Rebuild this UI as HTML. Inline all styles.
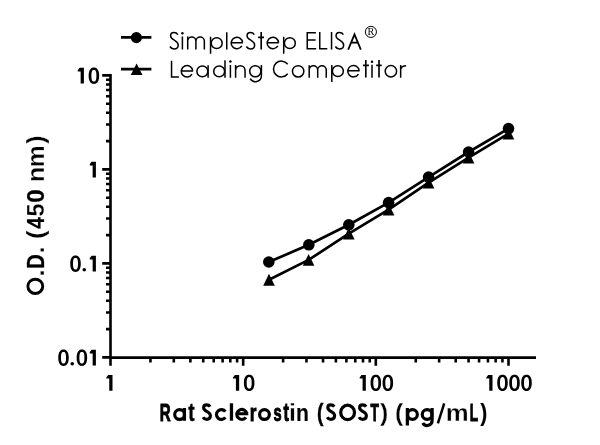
<!DOCTYPE html>
<html><head><meta charset="utf-8"><style>
html,body{margin:0;padding:0;background:#fff;}
svg{display:block;will-change:transform;}
text{font-family:"Liberation Sans",sans-serif;fill:#000;}
.b{font-weight:bold;}
.bt{font-weight:bold;}
.thin{stroke:#fff;stroke-width:0.5;paint-order:normal;}
.thinb{stroke:#fff;stroke-width:0.15;paint-order:normal;}
</style></head><body>
<svg width="600" height="445" viewBox="0 0 600 445">
<rect width="600" height="445" fill="#fff"/>
<path d="M110.5 74.1V358.9M109.2 357.59999999999997H536M102.2 75.40H110.5M102.2 169.40H110.5M102.2 263.40H110.5M102.2 357.40H110.5M106 329.10H110.5M106 312.55H110.5M106 300.81H110.5M106 291.70H110.5M106 284.25H110.5M106 277.96H110.5M106 272.51H110.5M106 267.70H110.5M106 235.10H110.5M106 218.55H110.5M106 206.81H110.5M106 197.70H110.5M106 190.25H110.5M106 183.96H110.5M106 178.51H110.5M106 173.70H110.5M106 141.10H110.5M106 124.55H110.5M106 112.81H110.5M106 103.70H110.5M106 96.25H110.5M106 89.96H110.5M106 84.51H110.5M106 79.70H110.5M110.50 357.4V365.7M243.17 357.4V365.7M375.83 357.4V365.7M508.50 357.4V365.7M150.44 357.4V362.4M173.80 357.4V362.4M190.37 357.4V362.4M203.23 357.4V362.4M213.73 357.4V362.4M222.62 357.4V362.4M230.31 357.4V362.4M237.10 357.4V362.4M283.10 357.4V362.4M306.46 357.4V362.4M323.04 357.4V362.4M335.90 357.4V362.4M346.40 357.4V362.4M355.28 357.4V362.4M362.98 357.4V362.4M369.76 357.4V362.4M415.77 357.4V362.4M439.13 357.4V362.4M455.71 357.4V362.4M468.56 357.4V362.4M479.07 357.4V362.4M487.95 357.4V362.4M495.64 357.4V362.4M502.43 357.4V362.4" stroke="#000" stroke-width="2.6" fill="none"/>
<path d="M268.8 262 L308.8 244.8 L348.8 224.8 L388.6 202.6 L428.6 177.1 L468.6 152 L508.5 128.6" stroke="#000" stroke-width="2.7" fill="none" stroke-linejoin="round"/>
<path d="M269 279.75 L308.6 259.9 L348.8 233.7 L388.6 209.6 L428.6 182.6 L468.6 157.6 L508.5 133.7" stroke="#000" stroke-width="2.7" fill="none" stroke-linejoin="round"/>
<g fill="#000"><circle cx="268.8" cy="262" r="5.8"/><circle cx="308.8" cy="244.8" r="5.8"/><circle cx="348.8" cy="224.8" r="5.8"/><circle cx="388.6" cy="202.6" r="5.8"/><circle cx="428.6" cy="177.1" r="5.8"/><circle cx="468.6" cy="152" r="5.8"/><circle cx="508.5" cy="128.6" r="5.8"/><path d="M263.20 285.65L269.00 273.85L274.80 285.65Z"/><path d="M302.80 265.80L308.60 254.00L314.40 265.80Z"/><path d="M343.00 239.60L348.80 227.80L354.60 239.60Z"/><path d="M382.80 215.50L388.60 203.70L394.40 215.50Z"/><path d="M422.80 188.50L428.60 176.70L434.40 188.50Z"/><path d="M462.80 163.50L468.60 151.70L474.40 163.50Z"/><path d="M502.70 139.60L508.50 127.80L514.30 139.60Z"/></g>
<path d="M121 37.4H151.4M121 69.2H151.4" stroke="#000" stroke-width="2.7"/>
<circle cx="136.4" cy="37.6" r="5.6"/>
<path d="M130.70 75.10L136.60 63.40L142.50 75.10Z"/>
<g fill="#000"><path d="M83.90 67.80V83.60H80.65V71.40H77.80L77.70 70.30L79.60 67.80Z"/><path fill-rule="evenodd" d="M99.15 75.70L99.11 77.10L98.99 78.23L98.80 79.26L98.53 80.19L98.19 81.03L97.78 81.77L97.31 82.40L96.77 82.94L96.18 83.35L95.52 83.66L94.79 83.84L93.90 83.90L93.01 83.84L92.28 83.66L91.62 83.35L91.03 82.94L90.49 82.40L90.02 81.77L89.61 81.03L89.27 80.19L89.00 79.26L88.81 78.23L88.69 77.10L88.65 75.70L88.69 74.30L88.81 73.17L89.00 72.14L89.27 71.21L89.61 70.37L90.02 69.63L90.49 69.00L91.03 68.46L91.62 68.05L92.28 67.74L93.01 67.56L93.90 67.50L94.79 67.56L95.52 67.74L96.18 68.05L96.77 68.46L97.31 69.00L97.78 69.63L98.19 70.37L98.53 71.21L98.80 72.14L98.99 73.17L99.11 74.30ZM96.40 75.70L96.38 76.91L96.33 77.75L96.25 78.47L96.14 79.10L95.99 79.66L95.81 80.14L95.61 80.55L95.37 80.89L95.09 81.16L94.78 81.35L94.42 81.46L93.90 81.50L93.38 81.46L93.02 81.35L92.71 81.16L92.43 80.89L92.19 80.55L91.99 80.14L91.81 79.66L91.66 79.10L91.55 78.47L91.47 77.75L91.42 76.91L91.40 75.70L91.42 74.49L91.47 73.65L91.55 72.93L91.66 72.30L91.81 71.74L91.99 71.26L92.19 70.85L92.43 70.51L92.71 70.24L93.02 70.05L93.38 69.94L93.90 69.90L94.42 69.94L94.78 70.05L95.09 70.24L95.37 70.51L95.61 70.85L95.81 71.26L95.99 71.74L96.14 72.30L96.25 72.93L96.33 73.65L96.38 74.49Z"/><path d="M95.90 161.80V177.60H92.65V165.40H89.80L89.70 164.30L91.60 161.80Z"/><path fill-rule="evenodd" d="M80.75 263.70L80.71 265.10L80.59 266.23L80.40 267.26L80.13 268.19L79.79 269.03L79.38 269.77L78.91 270.40L78.37 270.94L77.78 271.35L77.12 271.66L76.39 271.84L75.50 271.90L74.61 271.84L73.88 271.66L73.22 271.35L72.63 270.94L72.09 270.40L71.62 269.77L71.21 269.03L70.87 268.19L70.60 267.26L70.41 266.23L70.29 265.10L70.25 263.70L70.29 262.30L70.41 261.17L70.60 260.14L70.87 259.21L71.21 258.37L71.62 257.63L72.09 257.00L72.63 256.46L73.22 256.05L73.88 255.74L74.61 255.56L75.50 255.50L76.39 255.56L77.12 255.74L77.78 256.05L78.37 256.46L78.91 257.00L79.38 257.63L79.79 258.37L80.13 259.21L80.40 260.14L80.59 261.17L80.71 262.30ZM78.00 263.70L77.98 264.91L77.93 265.75L77.85 266.47L77.74 267.10L77.59 267.66L77.41 268.14L77.21 268.55L76.97 268.89L76.69 269.16L76.38 269.35L76.02 269.46L75.50 269.50L74.98 269.46L74.62 269.35L74.31 269.16L74.03 268.89L73.79 268.55L73.59 268.14L73.41 267.66L73.26 267.10L73.15 266.47L73.07 265.75L73.02 264.91L73.00 263.70L73.02 262.49L73.07 261.65L73.15 260.93L73.26 260.30L73.41 259.74L73.59 259.26L73.79 258.85L74.03 258.51L74.31 258.24L74.62 258.05L74.98 257.94L75.50 257.90L76.02 257.94L76.38 258.05L76.69 258.24L76.97 258.51L77.21 258.85L77.41 259.26L77.59 259.74L77.74 260.30L77.85 260.93L77.93 261.65L77.98 262.49Z"/><circle cx="84.25" cy="269.75" r="1.8"/><path d="M95.90 255.80V271.60H92.65V259.40H89.80L89.70 258.30L91.60 255.80Z"/><path fill-rule="evenodd" d="M68.75 357.70L68.71 359.10L68.59 360.23L68.40 361.26L68.13 362.19L67.79 363.03L67.38 363.77L66.91 364.40L66.37 364.94L65.78 365.35L65.12 365.66L64.39 365.84L63.50 365.90L62.61 365.84L61.88 365.66L61.22 365.35L60.63 364.94L60.09 364.40L59.62 363.77L59.21 363.03L58.87 362.19L58.60 361.26L58.41 360.23L58.29 359.10L58.25 357.70L58.29 356.30L58.41 355.17L58.60 354.14L58.87 353.21L59.21 352.37L59.62 351.63L60.09 351.00L60.63 350.46L61.22 350.05L61.88 349.74L62.61 349.56L63.50 349.50L64.39 349.56L65.12 349.74L65.78 350.05L66.37 350.46L66.91 351.00L67.38 351.63L67.79 352.37L68.13 353.21L68.40 354.14L68.59 355.17L68.71 356.30ZM66.00 357.70L65.98 358.91L65.93 359.75L65.85 360.47L65.74 361.10L65.59 361.66L65.41 362.14L65.21 362.55L64.97 362.89L64.69 363.16L64.38 363.35L64.02 363.46L63.50 363.50L62.98 363.46L62.62 363.35L62.31 363.16L62.03 362.89L61.79 362.55L61.59 362.14L61.41 361.66L61.26 361.10L61.15 360.47L61.07 359.75L61.02 358.91L61.00 357.70L61.02 356.49L61.07 355.65L61.15 354.93L61.26 354.30L61.41 353.74L61.59 353.26L61.79 352.85L62.03 352.51L62.31 352.24L62.62 352.05L62.98 351.94L63.50 351.90L64.02 351.94L64.38 352.05L64.69 352.24L64.97 352.51L65.21 352.85L65.41 353.26L65.59 353.74L65.74 354.30L65.85 354.93L65.93 355.65L65.98 356.49Z"/><circle cx="72.25" cy="363.75" r="1.8"/><path fill-rule="evenodd" d="M87.15 357.70L87.11 359.10L86.99 360.23L86.80 361.26L86.53 362.19L86.19 363.03L85.78 363.77L85.31 364.40L84.77 364.94L84.18 365.35L83.52 365.66L82.79 365.84L81.90 365.90L81.01 365.84L80.28 365.66L79.62 365.35L79.03 364.94L78.49 364.40L78.02 363.77L77.61 363.03L77.27 362.19L77.00 361.26L76.81 360.23L76.69 359.10L76.65 357.70L76.69 356.30L76.81 355.17L77.00 354.14L77.27 353.21L77.61 352.37L78.02 351.63L78.49 351.00L79.03 350.46L79.62 350.05L80.28 349.74L81.01 349.56L81.90 349.50L82.79 349.56L83.52 349.74L84.18 350.05L84.77 350.46L85.31 351.00L85.78 351.63L86.19 352.37L86.53 353.21L86.80 354.14L86.99 355.17L87.11 356.30ZM84.40 357.70L84.38 358.91L84.33 359.75L84.25 360.47L84.14 361.10L83.99 361.66L83.81 362.14L83.61 362.55L83.37 362.89L83.09 363.16L82.78 363.35L82.42 363.46L81.90 363.50L81.38 363.46L81.02 363.35L80.71 363.16L80.43 362.89L80.19 362.55L79.99 362.14L79.81 361.66L79.66 361.10L79.55 360.47L79.47 359.75L79.42 358.91L79.40 357.70L79.42 356.49L79.47 355.65L79.55 354.93L79.66 354.30L79.81 353.74L79.99 353.26L80.19 352.85L80.43 352.51L80.71 352.24L81.02 352.05L81.38 351.94L81.90 351.90L82.42 351.94L82.78 352.05L83.09 352.24L83.37 352.51L83.61 352.85L83.81 353.26L83.99 353.74L84.14 354.30L84.25 354.93L84.33 355.65L84.38 356.49Z"/><path d="M95.90 349.80V365.60H92.65V353.40H89.80L89.70 352.30L91.60 349.80Z"/><path d="M112.50 374.95V390.75H109.25V378.55H106.40L106.30 377.45L108.20 374.95Z"/><path d="M239.17 374.95V390.75H235.92V378.55H233.07L232.97 377.45L234.87 374.95Z"/><path fill-rule="evenodd" d="M254.42 382.85L254.38 384.25L254.26 385.38L254.07 386.41L253.80 387.34L253.46 388.18L253.05 388.92L252.58 389.55L252.04 390.09L251.44 390.50L250.79 390.81L250.06 390.99L249.17 391.05L248.27 390.99L247.55 390.81L246.89 390.50L246.29 390.09L245.76 389.55L245.28 388.92L244.87 388.18L244.53 387.34L244.27 386.41L244.07 385.38L243.96 384.25L243.92 382.85L243.96 381.45L244.07 380.32L244.27 379.29L244.53 378.36L244.87 377.52L245.28 376.78L245.76 376.15L246.29 375.61L246.89 375.20L247.55 374.89L248.27 374.71L249.17 374.65L250.06 374.71L250.79 374.89L251.44 375.20L252.04 375.61L252.58 376.15L253.05 376.78L253.46 377.52L253.80 378.36L254.07 379.29L254.26 380.32L254.38 381.45ZM251.67 382.85L251.65 384.06L251.60 384.90L251.52 385.62L251.40 386.25L251.26 386.81L251.08 387.29L250.87 387.70L250.63 388.04L250.36 388.31L250.05 388.50L249.69 388.61L249.17 388.65L248.64 388.61L248.28 388.50L247.97 388.31L247.70 388.04L247.46 387.70L247.25 387.29L247.07 386.81L246.93 386.25L246.81 385.62L246.73 384.90L246.68 384.06L246.67 382.85L246.68 381.64L246.73 380.80L246.81 380.08L246.93 379.45L247.07 378.89L247.25 378.41L247.46 378.00L247.70 377.66L247.97 377.39L248.28 377.20L248.64 377.09L249.17 377.05L249.69 377.09L250.05 377.20L250.36 377.39L250.63 377.66L250.87 378.00L251.08 378.41L251.26 378.89L251.40 379.45L251.52 380.08L251.60 380.80L251.65 381.64Z"/><path d="M365.83 374.95V390.75H362.58V378.55H359.73L359.63 377.45L361.53 374.95Z"/><path fill-rule="evenodd" d="M381.08 382.85L381.04 384.25L380.93 385.38L380.73 386.41L380.47 387.34L380.13 388.18L379.72 388.92L379.24 389.55L378.71 390.09L378.11 390.50L377.45 390.81L376.73 390.99L375.83 391.05L374.94 390.99L374.21 390.81L373.56 390.50L372.96 390.09L372.42 389.55L371.95 388.92L371.54 388.18L371.20 387.34L370.93 386.41L370.74 385.38L370.62 384.25L370.58 382.85L370.62 381.45L370.74 380.32L370.93 379.29L371.20 378.36L371.54 377.52L371.95 376.78L372.42 376.15L372.96 375.61L373.56 375.20L374.21 374.89L374.94 374.71L375.83 374.65L376.73 374.71L377.45 374.89L378.11 375.20L378.71 375.61L379.24 376.15L379.72 376.78L380.13 377.52L380.47 378.36L380.73 379.29L380.93 380.32L381.04 381.45ZM378.33 382.85L378.32 384.06L378.27 384.90L378.19 385.62L378.07 386.25L377.93 386.81L377.75 387.29L377.54 387.70L377.30 388.04L377.03 388.31L376.72 388.50L376.36 388.61L375.83 388.65L375.31 388.61L374.95 388.50L374.64 388.31L374.37 388.04L374.13 387.70L373.92 387.29L373.74 386.81L373.60 386.25L373.48 385.62L373.40 384.90L373.35 384.06L373.33 382.85L373.35 381.64L373.40 380.80L373.48 380.08L373.60 379.45L373.74 378.89L373.92 378.41L374.13 378.00L374.37 377.66L374.64 377.39L374.95 377.20L375.31 377.09L375.83 377.05L376.36 377.09L376.72 377.20L377.03 377.39L377.30 377.66L377.54 378.00L377.75 378.41L377.93 378.89L378.07 379.45L378.19 380.08L378.27 380.80L378.32 381.64Z"/><path fill-rule="evenodd" d="M393.08 382.85L393.04 384.25L392.93 385.38L392.73 386.41L392.47 387.34L392.13 388.18L391.72 388.92L391.24 389.55L390.71 390.09L390.11 390.50L389.45 390.81L388.73 390.99L387.83 391.05L386.94 390.99L386.21 390.81L385.56 390.50L384.96 390.09L384.42 389.55L383.95 388.92L383.54 388.18L383.20 387.34L382.93 386.41L382.74 385.38L382.62 384.25L382.58 382.85L382.62 381.45L382.74 380.32L382.93 379.29L383.20 378.36L383.54 377.52L383.95 376.78L384.42 376.15L384.96 375.61L385.56 375.20L386.21 374.89L386.94 374.71L387.83 374.65L388.73 374.71L389.45 374.89L390.11 375.20L390.71 375.61L391.24 376.15L391.72 376.78L392.13 377.52L392.47 378.36L392.73 379.29L392.93 380.32L393.04 381.45ZM390.33 382.85L390.32 384.06L390.27 384.90L390.19 385.62L390.07 386.25L389.93 386.81L389.75 387.29L389.54 387.70L389.30 388.04L389.03 388.31L388.72 388.50L388.36 388.61L387.83 388.65L387.31 388.61L386.95 388.50L386.64 388.31L386.37 388.04L386.13 387.70L385.92 387.29L385.74 386.81L385.60 386.25L385.48 385.62L385.40 384.90L385.35 384.06L385.33 382.85L385.35 381.64L385.40 380.80L385.48 380.08L385.60 379.45L385.74 378.89L385.92 378.41L386.13 378.00L386.37 377.66L386.64 377.39L386.95 377.20L387.31 377.09L387.83 377.05L388.36 377.09L388.72 377.20L389.03 377.39L389.30 377.66L389.54 378.00L389.75 378.41L389.93 378.89L390.07 379.45L390.19 380.08L390.27 380.80L390.32 381.64Z"/><path d="M492.50 374.95V390.75H489.25V378.55H486.40L486.30 377.45L488.20 374.95Z"/><path fill-rule="evenodd" d="M507.75 382.85L507.71 384.25L507.59 385.38L507.40 386.41L507.13 387.34L506.79 388.18L506.38 388.92L505.91 389.55L505.37 390.09L504.78 390.50L504.12 390.81L503.39 390.99L502.50 391.05L501.61 390.99L500.88 390.81L500.22 390.50L499.63 390.09L499.09 389.55L498.62 388.92L498.21 388.18L497.87 387.34L497.60 386.41L497.41 385.38L497.29 384.25L497.25 382.85L497.29 381.45L497.41 380.32L497.60 379.29L497.87 378.36L498.21 377.52L498.62 376.78L499.09 376.15L499.63 375.61L500.22 375.20L500.88 374.89L501.61 374.71L502.50 374.65L503.39 374.71L504.12 374.89L504.78 375.20L505.37 375.61L505.91 376.15L506.38 376.78L506.79 377.52L507.13 378.36L507.40 379.29L507.59 380.32L507.71 381.45ZM505.00 382.85L504.98 384.06L504.93 384.90L504.85 385.62L504.74 386.25L504.59 386.81L504.41 387.29L504.21 387.70L503.97 388.04L503.69 388.31L503.38 388.50L503.02 388.61L502.50 388.65L501.98 388.61L501.62 388.50L501.31 388.31L501.03 388.04L500.79 387.70L500.59 387.29L500.41 386.81L500.26 386.25L500.15 385.62L500.07 384.90L500.02 384.06L500.00 382.85L500.02 381.64L500.07 380.80L500.15 380.08L500.26 379.45L500.41 378.89L500.59 378.41L500.79 378.00L501.03 377.66L501.31 377.39L501.62 377.20L501.98 377.09L502.50 377.05L503.02 377.09L503.38 377.20L503.69 377.39L503.97 377.66L504.21 378.00L504.41 378.41L504.59 378.89L504.74 379.45L504.85 380.08L504.93 380.80L504.98 381.64Z"/><path fill-rule="evenodd" d="M519.75 382.85L519.71 384.25L519.59 385.38L519.40 386.41L519.13 387.34L518.79 388.18L518.38 388.92L517.91 389.55L517.37 390.09L516.78 390.50L516.12 390.81L515.39 390.99L514.50 391.05L513.61 390.99L512.88 390.81L512.22 390.50L511.63 390.09L511.09 389.55L510.62 388.92L510.21 388.18L509.87 387.34L509.60 386.41L509.41 385.38L509.29 384.25L509.25 382.85L509.29 381.45L509.41 380.32L509.60 379.29L509.87 378.36L510.21 377.52L510.62 376.78L511.09 376.15L511.63 375.61L512.22 375.20L512.88 374.89L513.61 374.71L514.50 374.65L515.39 374.71L516.12 374.89L516.78 375.20L517.37 375.61L517.91 376.15L518.38 376.78L518.79 377.52L519.13 378.36L519.40 379.29L519.59 380.32L519.71 381.45ZM517.00 382.85L516.98 384.06L516.93 384.90L516.85 385.62L516.74 386.25L516.59 386.81L516.41 387.29L516.21 387.70L515.97 388.04L515.69 388.31L515.38 388.50L515.02 388.61L514.50 388.65L513.98 388.61L513.62 388.50L513.31 388.31L513.03 388.04L512.79 387.70L512.59 387.29L512.41 386.81L512.26 386.25L512.15 385.62L512.07 384.90L512.02 384.06L512.00 382.85L512.02 381.64L512.07 380.80L512.15 380.08L512.26 379.45L512.41 378.89L512.59 378.41L512.79 378.00L513.03 377.66L513.31 377.39L513.62 377.20L513.98 377.09L514.50 377.05L515.02 377.09L515.38 377.20L515.69 377.39L515.97 377.66L516.21 378.00L516.41 378.41L516.59 378.89L516.74 379.45L516.85 380.08L516.93 380.80L516.98 381.64Z"/><path fill-rule="evenodd" d="M531.75 382.85L531.71 384.25L531.59 385.38L531.40 386.41L531.13 387.34L530.79 388.18L530.38 388.92L529.91 389.55L529.37 390.09L528.78 390.50L528.12 390.81L527.39 390.99L526.50 391.05L525.61 390.99L524.88 390.81L524.22 390.50L523.63 390.09L523.09 389.55L522.62 388.92L522.21 388.18L521.87 387.34L521.60 386.41L521.41 385.38L521.29 384.25L521.25 382.85L521.29 381.45L521.41 380.32L521.60 379.29L521.87 378.36L522.21 377.52L522.62 376.78L523.09 376.15L523.63 375.61L524.22 375.20L524.88 374.89L525.61 374.71L526.50 374.65L527.39 374.71L528.12 374.89L528.78 375.20L529.37 375.61L529.91 376.15L530.38 376.78L530.79 377.52L531.13 378.36L531.40 379.29L531.59 380.32L531.71 381.45ZM529.00 382.85L528.98 384.06L528.93 384.90L528.85 385.62L528.74 386.25L528.59 386.81L528.41 387.29L528.21 387.70L527.97 388.04L527.69 388.31L527.38 388.50L527.02 388.61L526.50 388.65L525.98 388.61L525.62 388.50L525.31 388.31L525.03 388.04L524.79 387.70L524.59 387.29L524.41 386.81L524.26 386.25L524.15 385.62L524.07 384.90L524.02 384.06L524.00 382.85L524.02 381.64L524.07 380.80L524.15 380.08L524.26 379.45L524.41 378.89L524.59 378.41L524.79 378.00L525.03 377.66L525.31 377.39L525.62 377.20L525.98 377.09L526.50 377.05L527.02 377.09L527.38 377.20L527.69 377.39L527.97 377.66L528.21 378.00L528.41 378.41L528.59 378.89L528.74 379.45L528.85 380.08L528.93 380.80L528.98 381.64Z"/></g>
<text style="font-weight:bold;stroke:#000;stroke-width:0.800;paint-order:normal" vector-effect="non-scaling-stroke" font-size="24.2" transform="translate(159.810 420.8) scale(0.6256 1)">R</text>
<text style="font-weight:bold;stroke:#000;stroke-width:0.410;paint-order:normal" vector-effect="non-scaling-stroke" font-size="24.2" transform="translate(188.319 420.8) scale(0.7909 1.1)">t</text>
<text style="font-weight:bold;stroke:#fff;stroke-width:0.300;paint-order:normal" vector-effect="non-scaling-stroke" font-size="24.2" transform="translate(228.115 420.8) scale(1.0291 1)">l</text>
<text style="font-weight:bold;stroke:#000;stroke-width:0.706;paint-order:normal" vector-effect="non-scaling-stroke" font-size="24.2" transform="translate(249.645 420.8) scale(0.7127 1)">r</text>
<text style="font-weight:bold;stroke:#000;stroke-width:0.800;paint-order:normal" vector-effect="non-scaling-stroke" font-size="24.2" transform="translate(273.422 420.8) scale(0.6031 1)">s</text>
<text style="font-weight:bold;stroke:#000;stroke-width:0.800;paint-order:normal" vector-effect="non-scaling-stroke" font-size="24.2" transform="translate(283.418 420.8) scale(0.6742 1.1)">t</text>
<text style="font-weight:bold;stroke:#fff;stroke-width:0.300;paint-order:normal" vector-effect="non-scaling-stroke" font-size="24.2" transform="translate(288.976 420.8) scale(1.0360 1)">i</text>
<text style="font-weight:bold;stroke:#000;stroke-width:0.101;paint-order:normal" vector-effect="non-scaling-stroke" font-size="24.2" transform="translate(295.921 420.8) scale(0.8729 1)">n</text>
<text style="font-weight:bold;stroke:#000;stroke-width:0.366;paint-order:normal" vector-effect="non-scaling-stroke" font-size="24.2" transform="translate(316.941 420.8) scale(0.8027 1)">(</text>
<text style="font-weight:bold;stroke:#000;stroke-width:0.800;paint-order:normal" vector-effect="non-scaling-stroke" font-size="24.2" transform="translate(370.583 420.8) scale(0.5683 1)">T</text>
<text style="font-weight:bold;stroke:#fff;stroke-width:0.300;paint-order:normal" vector-effect="non-scaling-stroke" font-size="24.2" transform="translate(380.023 420.8) scale(1.0218 1)">)</text>
<text style="font-weight:bold;stroke:#fff;stroke-width:0.300;paint-order:normal" vector-effect="non-scaling-stroke" font-size="24.2" transform="translate(394.888 420.8) scale(1.0233 1)">(</text>
<text style="font-weight:bold;stroke:#fff;stroke-width:0.300;paint-order:normal" vector-effect="non-scaling-stroke" font-size="24.2" transform="translate(445.625 420.8) scale(1.0654 1)">m</text>
<text style="font-weight:bold;stroke:#000;stroke-width:0.800;paint-order:normal" vector-effect="non-scaling-stroke" font-size="24.2" transform="translate(469.763 420.8) scale(0.5648 1)">L</text>
<text style="font-weight:bold;stroke:#000;stroke-width:0.097;paint-order:normal" vector-effect="non-scaling-stroke" font-size="24.2" transform="translate(480.218 420.8) scale(0.8737 1)">)</text>
<text style="font-weight:bold;stroke:#fff;stroke-width:0.300;paint-order:normal" vector-effect="non-scaling-stroke" font-size="24.2" transform="translate(44.2 294.8) rotate(-90) translate(18.043 0) scale(1.1259 1)">.</text>
<text style="font-weight:bold;stroke:#000;stroke-width:0.268;paint-order:normal" vector-effect="non-scaling-stroke" font-size="24.2" transform="translate(44.2 294.8) rotate(-90) translate(26.064 0) scale(0.8285 1)">D</text>
<text style="font-weight:bold;stroke:#fff;stroke-width:0.300;paint-order:normal" vector-effect="non-scaling-stroke" font-size="24.2" transform="translate(44.2 294.8) rotate(-90) translate(41.620 0) scale(0.9997 1)">.</text>
<text style="font-weight:bold;stroke:#fff;stroke-width:0.300;paint-order:normal" vector-effect="non-scaling-stroke" font-size="24.2" transform="translate(44.2 294.8) rotate(-90) translate(55.676 0) scale(1.0905 1)">(</text>
<text style="font-weight:bold;stroke:#000;stroke-width:0.167;paint-order:normal" vector-effect="non-scaling-stroke" font-size="24.2" transform="translate(44.2 294.8) rotate(-90) translate(65.971 0) scale(0.8552 1)">4</text>
<text style="font-weight:bold;stroke:#fff;stroke-width:0.249;paint-order:normal" vector-effect="non-scaling-stroke" font-size="24.2" transform="translate(44.2 294.8) rotate(-90) translate(78.423 0) scale(0.9652 1)">5</text>
<text style="font-weight:bold;stroke:#000;stroke-width:0.209;paint-order:normal" vector-effect="non-scaling-stroke" font-size="24.2" transform="translate(44.2 294.8) rotate(-90) translate(92.063 0) scale(0.9932 1)">0</text>
<text style="font-weight:bold;stroke:#fff;stroke-width:0.300;paint-order:normal" vector-effect="non-scaling-stroke" font-size="24.2" transform="translate(44.2 294.8) rotate(-90) translate(112.559 0) scale(1.0483 1)">n</text>
<text style="font-weight:bold;stroke:#fff;stroke-width:0.300;paint-order:normal" vector-effect="non-scaling-stroke" font-size="24.2" transform="translate(44.2 294.8) rotate(-90) translate(127.524 0) scale(1.0152 1)">m</text>
<text style="font-weight:bold;stroke:#fff;stroke-width:0.300;paint-order:normal" vector-effect="non-scaling-stroke" font-size="24.2" transform="translate(44.2 294.8) rotate(-90) translate(150.950 0) scale(1.0381 1)">)</text>
<circle cx="370.9" cy="31.9" r="5.55" fill="none" stroke="#000" stroke-width="1.0"/><line x1="437.9" y1="423.3" x2="444.2" y2="403.3" stroke="#000" stroke-width="2.5"/><text x="370.9" y="35.1" font-size="9.8" text-anchor="middle" textLength="6.8" lengthAdjust="spacingAndGlyphs" style="font-family:'Liberation Serif',serif;font-weight:normal">R</text><path d="M348.2 49.7L354.5 34.4L360.8 49.7M350.9 42.6H358.1" fill="none" stroke="#000" stroke-width="1.75" stroke-linejoin="miter" stroke-miterlimit="10"/><path d="M261.2 32.1V49.6M258.1 37.35H264M365.8 60.1V77.6M363 65.4H368.9M379 60.1V77.6M376.2 65.4H381.7" fill="none" stroke="#000" stroke-width="1.65"/>
<g fill="none" stroke="#000" stroke-width="1.5"><circle cx="216.7" cy="43.15" r="5.45"/><circle cx="289.85" cy="43.15" r="5.45"/><circle cx="337.85" cy="71.15" r="5.45"/><circle cx="202.35" cy="71.4" r="5.45"/><circle cx="219.15" cy="71.4" r="5.45"/><circle cx="298.15" cy="71.35" r="5.7"/><circle cx="390.9" cy="71.25" r="5.7"/><path d="M210.55 36.7V53.7M283.7 36.7V53.7M331.8 65V82M208.1 65.2V77.7M225.0 60.2V77.7M287.7 64.25A7.9 7.9 0 1 0 287.7 73.75"/><path d="M230.80 42.65H243.00M242.60 42.65A5.7 5.7 0 1 0 241.84 45.90M266.80 42.65H279.00M278.60 42.65A5.7 5.7 0 1 0 277.84 45.90M180.90 70.90H193.10M192.70 70.90A5.7 5.7 0 1 0 191.94 74.15M347.40 70.80H359.60M359.20 70.80A5.7 5.7 0 1 0 358.44 74.05"/><path d="M177.90 34.60C176.90 33.10 175.30 32.60 173.90 32.60C171.60 32.60 170.60 34.30 170.60 35.90C170.60 38.20 172.60 39.20 174.60 40.30C176.60 41.40 178.20 42.70 178.20 45.00C178.20 47.60 176.30 49.00 174.00 49.00C172.30 49.00 170.80 48.00 169.90 46.50M254.35 34.60C253.35 33.10 251.75 32.60 250.35 32.60C248.05 32.60 247.05 34.30 247.05 35.90C247.05 38.20 249.05 39.20 251.05 40.30C253.05 41.40 254.65 42.70 254.65 45.00C254.65 47.60 252.75 49.00 250.45 49.00C248.75 49.00 247.25 48.00 246.35 46.50M343.35 34.60C342.35 33.10 340.75 32.60 339.35 32.60C337.05 32.60 336.05 34.30 336.05 35.90C336.05 38.20 338.05 39.20 340.05 40.30C342.05 41.40 343.65 42.70 343.65 45.00C343.65 47.60 341.75 49.00 339.45 49.00C337.75 49.00 336.25 48.00 335.35 46.50"/><path d="M187.7 49.6V36.5M187.7 41.15A4.100 4.100 0 0 1 195.9 41.15V49.6M195.9 41.15A4.225 4.225 0 0 1 204.35 41.15V49.6M309.2 77.7V65.15M309.2 69.95A4.250 4.250 0 0 1 317.7 69.95V77.7M317.7 69.95A4.275 4.275 0 0 1 326.25 69.95V77.7M235.6 77.7V65.10000000000001M235.6 70.38A4.725 4.725 0 0 1 245.05 70.38V77.7"/><path d="M400.65 77.7V64.95M400.65 69.6C401.4 66.8 403.2 65.75 406.1 65.75"/><path d="M182.4 49.6V36.5M230.4 77.7V65.0M372.0 77.7V64.8M226.75 49.6V32.3M315.9 32.85H307.25V48.85H316.2M307.25 40.0H315.6M319.75 32.1V48.85H327.3M331.55 32.1V49.6M171.55 60.7V76.95H178.9" stroke-linejoin="miter"/><circle cx="182.4" cy="33.3" r="1.25" fill="#000" stroke="none"/><circle cx="230.4" cy="61.5" r="1.25" fill="#000" stroke="none"/><circle cx="372.0" cy="61.7" r="1.25" fill="#000" stroke="none"/><path d="M261.4 64.9V75.65A6 6 0 0 1 250.2 78.65"/><circle cx="255.3" cy="71.25" r="5.6"/></g>
<g fill="none" stroke="#000" stroke-width="3.2"><circle cx="179.6" cy="414.55" r="4.9"/><circle cx="264.45" cy="414.55" r="4.9"/><ellipse cx="347.6" cy="412.4" rx="6.9" ry="7.2"/><circle cx="412.5" cy="414.55" r="4.85"/><circle cx="427.1" cy="414.55" r="4.85"/><path d="M184.45 408V420.8M225.36 411.67A4.9 4.9 0 1 0 225.36 417.43M235.50 413.75H248.30M246.80 413.75A5.0 5.0 0 1 0 245.90 417.42M407.35 408.1V425.6M432.1 408.1V420.5A5 5 0 0 1 422.77 423"/></g><ellipse cx="35.3" cy="286.35" rx="7.45" ry="7.15" fill="none" stroke="#000" stroke-width="2.9"/><path d="M210.13 406.67C209.24 405.34 207.81 404.90 206.55 404.90C204.50 404.90 203.60 406.40 203.60 407.82C203.60 409.85 205.39 410.73 207.18 411.71C208.97 412.68 210.40 413.83 210.40 415.86C210.40 418.16 208.70 419.40 206.64 419.40C205.12 419.40 203.78 418.51 202.97 417.19M334.33 406.67C333.44 405.34 332.01 404.90 330.75 404.90C328.69 404.90 327.80 406.40 327.80 407.82C327.80 409.85 329.59 410.73 331.38 411.71C333.17 412.68 334.60 413.83 334.60 415.86C334.60 418.16 332.90 419.40 330.84 419.40C329.32 419.40 327.98 418.51 327.17 417.19M366.13 406.67C365.24 405.34 363.81 404.90 362.55 404.90C360.50 404.90 359.60 406.40 359.60 407.82C359.60 409.85 361.39 410.73 363.18 411.71C364.97 412.68 366.40 413.83 366.40 415.86C366.40 418.16 364.70 419.40 362.64 419.40C361.12 419.40 359.78 418.51 358.97 417.19" fill="none" stroke="#000" stroke-width="3.1"/>
</svg>
</body></html>
